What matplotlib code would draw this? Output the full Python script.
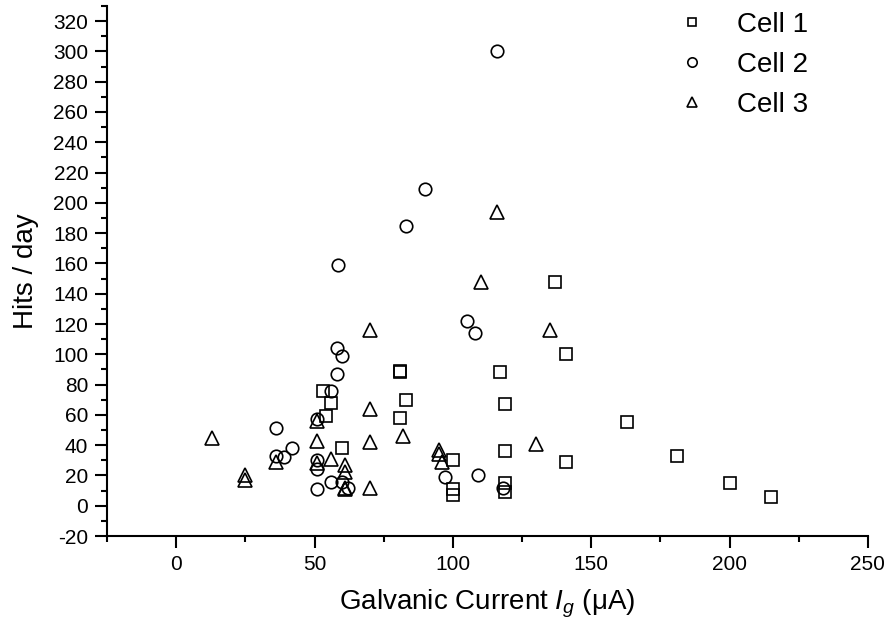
#!/usr/bin/env python3

"""Hits per day against galvanic current for three cells"""

import matplotlib
matplotlib.use('Agg')
import matplotlib.pyplot as plt
from matplotlib.ticker import MultipleLocator

# data
cell1_x = [53, 56, 54, 60, 81, 81, 83, 81, 100, 100, 100, 117, 119, 119, 119, 119,
           137, 141, 141, 163, 181, 200, 215]
cell1_y = [76, 68, 59, 38, 89, 88, 70, 58, 30, 11, 7, 88, 67, 36, 15, 9,
           148, 100, 29, 55, 33, 15, 6]

cell2_x = [58, 60, 58, 56, 51, 36, 42, 39, 36, 51, 51, 56, 60, 62, 51,
           105, 108, 97, 109, 118, 116, 90, 83, 58.5]
cell2_y = [104, 99, 87, 76, 57, 51, 38, 32, 33, 30, 24, 16, 16, 12, 11,
           122, 114, 19, 20, 12, 300, 209, 185, 159]

cell3_x = [70, 70, 51, 13, 51, 70, 36, 51, 56, 61, 61, 25, 25, 61, 61, 70,
           82, 95, 95, 96, 130, 135, 116, 110]
cell3_y = [116, 64, 56, 45, 43, 42, 29, 28, 31, 27, 22, 20, 17, 12, 11, 12,
           46, 37, 34, 29, 41, 116, 194, 148]

labels = ['Cell 1', 'Cell 2', 'Cell 3']


def main():
    plt.rcParams['font.family'] = ['Liberation Sans', 'DejaVu Sans']
    plt.rcParams['mathtext.fontset'] = 'custom'
    plt.rcParams['mathtext.rm'] = 'Liberation Sans'
    plt.rcParams['mathtext.it'] = 'Liberation Sans:italic'
    plt.rcParams['axes.unicode_minus'] = False

    fig = plt.figure(figsize=(8.92, 6.36), dpi=100)
    ax = fig.add_axes([0.120, 0.1572, 0.853, 0.8334])

    style = dict(linestyle='none', markerfacecolor='none', markeredgecolor='black',
                 markeredgewidth=1.2)
    ax.plot(cell1_x, cell1_y, marker='s', markersize=8.5, label=labels[0], **style)
    ax.plot(cell2_x, cell2_y, marker='o', markersize=9, label=labels[1], **style)
    ax.plot(cell3_x, cell3_y, marker='^', markersize=10, label=labels[2], **style)

    ax.set_xlim(-25, 250)
    ax.set_ylim(-20, 330)
    ax.xaxis.set_major_locator(MultipleLocator(50))
    ax.xaxis.set_minor_locator(MultipleLocator(25))
    ax.yaxis.set_minor_locator(MultipleLocator(10))
    ax.set_yticks(range(-20, 321, 20))

    for side in ['top', 'right']:
        ax.spines[side].set_visible(False)
    for side in ['left', 'bottom']:
        ax.spines[side].set_linewidth(1.5)

    ax.tick_params(which='major', direction='out', length=8.5, width=1.5,
                   labelsize=15, pad=5)
    ax.tick_params(which='minor', direction='out', length=4.5, width=1.5)

    ax.set_xlabel(r'Galvanic Current $I_g$ (μA)', fontsize=20, labelpad=10)
    ax.set_ylabel('Hits / day', fontsize=20, labelpad=10)

    ax.legend(loc='upper right', bbox_to_anchor=(0.954, 1.036), frameon=False,
              fontsize=20, markerscale=0.75, handletextpad=0.85,
              labelspacing=0.5, handlelength=1.5)

    fig.savefig('out.png', dpi=100)


if __name__ == '__main__':
    main()
